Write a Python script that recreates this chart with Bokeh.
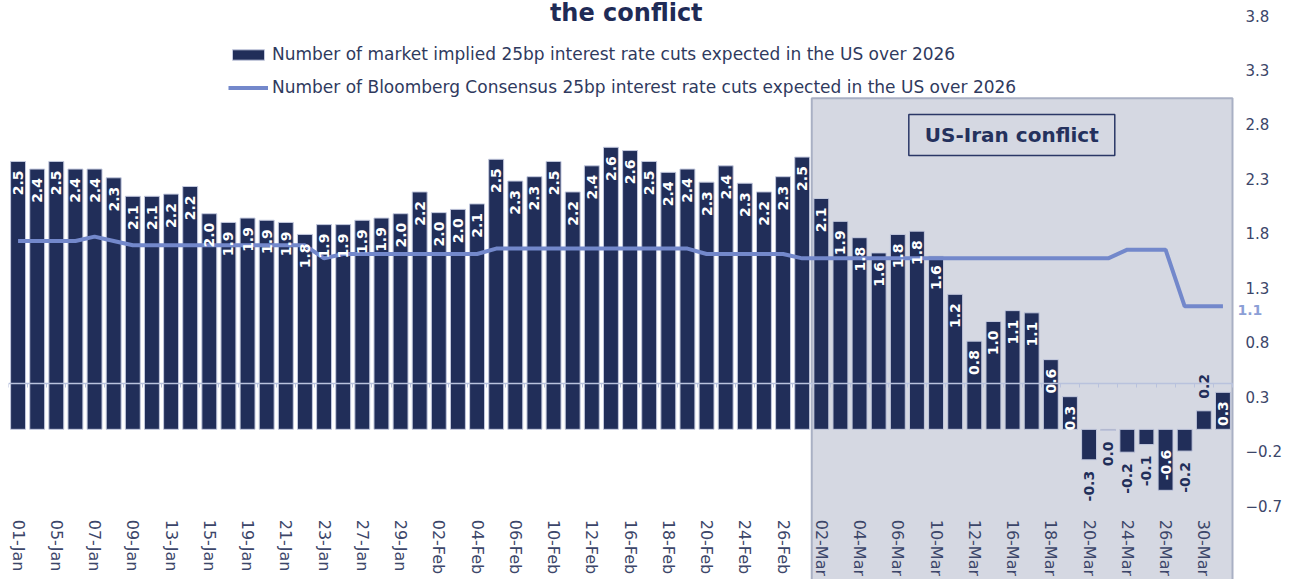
import math
from bokeh.plotting import figure
from bokeh.models import (ColumnDataSource, LinearAxis, FixedTicker, Range1d,
                          Legend, LegendItem)
from bokeh.embed import file_html
from bokeh.resources import INLINE
from bokeh.core.properties import value

# ---------------- data ----------------
dates = ["01-Jan", "02-Jan", "05-Jan", "06-Jan", "07-Jan", "08-Jan", "09-Jan", "12-Jan",
         "13-Jan", "14-Jan", "15-Jan", "16-Jan", "19-Jan", "20-Jan", "21-Jan", "22-Jan",
         "23-Jan", "26-Jan", "27-Jan", "28-Jan", "29-Jan", "30-Jan",
         "02-Feb", "03-Feb", "04-Feb", "05-Feb", "06-Feb", "09-Feb", "10-Feb", "11-Feb",
         "12-Feb", "13-Feb", "16-Feb", "17-Feb", "18-Feb", "19-Feb", "20-Feb", "23-Feb",
         "24-Feb", "25-Feb", "26-Feb", "27-Feb",
         "02-Mar", "03-Mar", "04-Mar", "05-Mar", "06-Mar", "09-Mar", "10-Mar", "11-Mar",
         "12-Mar", "13-Mar", "16-Mar", "17-Mar", "18-Mar", "19-Mar", "20-Mar", "23-Mar",
         "24-Mar", "25-Mar", "26-Mar", "27-Mar", "30-Mar", "31-Mar"]

market_cuts = [2.46, 2.39, 2.46, 2.39, 2.39, 2.31, 2.14, 2.14, 2.16, 2.23, 1.98, 1.90,
               1.94, 1.92, 1.90, 1.79, 1.88, 1.88, 1.92, 1.94, 1.98, 2.18,
               1.99, 2.02, 2.07, 2.48, 2.28, 2.32, 2.46, 2.18, 2.42, 2.59, 2.56, 2.46,
               2.36, 2.39, 2.27, 2.42, 2.26, 2.18, 2.32, 2.50,
               2.12, 1.91, 1.76, 1.62, 1.79, 1.82, 1.59, 1.24, 0.81, 0.99, 1.09, 1.07,
               0.64, 0.30, -0.28, -0.01, -0.21, -0.14, -0.56, -0.20, 0.17, 0.34]

consensus_cuts = [1.73, 1.73, 1.73, 1.73, 1.77, 1.73, 1.69, 1.69, 1.69, 1.69, 1.69, 1.69,
                  1.69, 1.69, 1.69, 1.69, 1.57, 1.61, 1.61, 1.61, 1.61, 1.61,
                  1.61, 1.61, 1.61, 1.66, 1.66, 1.66, 1.66, 1.66, 1.66, 1.66, 1.66, 1.66,
                  1.66, 1.66, 1.61, 1.61, 1.61, 1.61, 1.61, 1.57,
                  1.57, 1.57, 1.57, 1.57, 1.57, 1.57, 1.57, 1.57, 1.57, 1.57, 1.57, 1.57,
                  1.57, 1.57, 1.57, 1.57, 1.65, 1.65, 1.65, 1.13, 1.13, 1.13]

y_ticks = [-0.7, -0.2, 0.3, 0.8, 1.3, 1.8, 2.3, 2.8, 3.3, 3.8]
conflict_start_date = "02-Mar"

series_bar = "Number of market implied 25bp interest rate cuts expected in the US over 2026"
series_line = "Number of Bloomberg Consensus 25bp interest rate cuts expected in the US over 2026"
title_text = "the conflict"
box_text = "US-Iran conflict"

# ---------------- style ----------------
FONT = "DejaVu Sans"
NAVY = "#212e59"
LINE = "#7388cb"
SHADE = "#d5d8e2"
TXT = "#3c4669"

n = len(dates)
idx = list(range(n))

PX_PER_BAR = 1224 / n          # horizontal scale of the bar area
FRAME_W = 1280                 # frame also covers the right-hand label strip
x_end = -0.5 + FRAME_W / PX_PER_BAR

p = figure(frame_width=FRAME_W, frame_height=579, output_backend="svg", toolbar_location=None,
           x_range=Range1d(-0.5, x_end), y_range=Range1d(-1.379, 3.938),
           x_axis_location=None, y_axis_location=None,
           min_border_left=8, min_border_top=0, min_border_bottom=0, min_border_right=0)
p.outline_line_color = None
p.grid.visible = False
p.background_fill_color = "white"
p.border_fill_color = "white"

# shaded conflict period
cs = dates.index(conflict_start_date) - 0.5
p.quad(left=[cs], right=[n - 0.5], bottom=[-1.5], top=[3.04],
       fill_color=SHADE, line_color="#a9b0c4", line_width=2)

# bars
src = ColumnDataSource(dict(x=idx, top=market_cuts))
bars = p.vbar(x="x", top="top", bottom=0, width=0.78, source=src,
              fill_color=NAVY, line_color="#c3c9de", line_width=1)

# consensus line
ln = p.line(idx, consensus_cuts, line_color=LINE, line_width=4)

# value axis, pinned at the right edge of the bar area
y_axis = LinearAxis(fixed_location=n - 0.5, ticker=FixedTicker(ticks=y_ticks),
                    axis_line_color=None, major_tick_line_color=None,
                    minor_tick_line_color=None, major_tick_out=0, major_tick_in=0,
                    major_label_standoff=13, major_label_text_font=FONT,
                    major_label_text_font_size="15px", major_label_text_color=TXT)
p.add_layout(y_axis, "right")

# category axis line (crossing inside the plot)
cat_axis = LinearAxis(fixed_location=0.42,
                      ticker=FixedTicker(ticks=[i - 0.5 for i in range(n + 1)]),
                      axis_line_color="#b9c2dd", axis_line_width=1.5,
                      major_tick_line_color="#b9c2dd", major_tick_in=0, major_tick_out=4,
                      minor_tick_line_color=None,
                      major_label_overrides={i - 0.5: "" for i in range(n + 1)},
                      major_label_text_color=None, major_label_text_font_size="1px")
p.add_layout(cat_axis, "below")
cat_axis.bounds = (-0.5, n - 0.5)

# date axis
date_ticks = list(range(0, n, 2))
date_axis = LinearAxis(fixed_location=-0.83,
                       ticker=FixedTicker(ticks=date_ticks),
                       major_label_overrides={i: dates[i] for i in date_ticks},
                       major_label_orientation="vertical",
                       axis_line_color=None, major_tick_line_color=None,
                       minor_tick_line_color=None, major_tick_out=0, major_tick_in=0,
                       major_label_standoff=0,
                       major_label_text_font=FONT, major_label_text_font_size="16px",
                       major_label_text_color=TXT)
p.add_layout(date_axis, "below")

# end-value label of the consensus line
end_val = consensus_cuts[-1]
p.text(x=[n - 0.5], y=[end_val - 0.035], text=[f"{end_val:.1f}"], x_offset=5,
       text_align="left", text_baseline="middle", text_color="#8c9fd6",
       text_font=value(FONT), text_font_style="bold", text_font_size="14px")

# bar value labels
groups = {
    "in_top": dict(x=[], y=[], t=[]),
    "out_top": dict(x=[], y=[], t=[]),
    "out_bot": dict(x=[], y=[], t=[]),
    "in_bot": dict(x=[], y=[], t=[]),
}
for i, v in enumerate(market_cuts):
    lab = f"{v:.1f}"
    if lab == "-0.0":
        lab = "0.0"
    if v >= 0.3:
        g = "in_top"
    elif v > 0:
        g = "out_top"
    elif v > -0.35:
        g = "out_bot"
    else:
        g = "in_bot"
    groups[g]["x"].append(i)
    groups[g]["y"].append(v)
    groups[g]["t"].append(lab)

specs = {
    "in_top": ("right", 9, "white"),
    "out_top": ("left", -12, NAVY),
    "out_bot": ("right", 11, NAVY),
    "in_bot": ("left", -10, "white"),
}
for g, d in groups.items():
    if not d["x"]:
        continue
    align, off, col = specs[g]
    p.text(x=d["x"], y=d["y"], text=d["t"], angle=math.pi / 2,
           text_align=align, text_baseline="middle", y_offset=off,
           text_color=col, text_font=value(FONT), text_font_style="bold",
           text_font_size="14px")

# conflict box
bx, by, bw, bh = 51.96, 2.702, 10.77, 0.376
p.rect(x=[bx], y=[by], width=[bw], height=[bh], fill_color=SHADE,
       line_color="#2a3766", line_width=1.5)
p.text(x=[bx], y=[by], text=[box_text], text_align="center", text_baseline="middle",
       text_color="#24315d", text_font=value(FONT), text_font_style="bold",
       text_font_size="20px")

# title (last line of the chart title)
p.text(x=[31.8], y=[3.819], text=[title_text], text_align="center",
       text_baseline="alphabetic", text_color="#1f2b56", text_font=value(FONT),
       text_font_style="bold", text_font_size="24px")

# legend
legend = Legend(items=[LegendItem(label=series_bar, renderers=[bars]),
                       LegendItem(label=series_line, renderers=[ln])],
                location=(220, 482), orientation="vertical",
                glyph_width=40, glyph_height=13, label_height=20, label_standoff=4,
                spacing=13, padding=0, margin=0, border_line_color=None,
                background_fill_alpha=0, label_text_font=FONT,
                label_text_font_size="17px", label_text_color="#2f3a5e")
p.add_layout(legend)

open("out.html", "w").write(file_html(p, INLINE))
